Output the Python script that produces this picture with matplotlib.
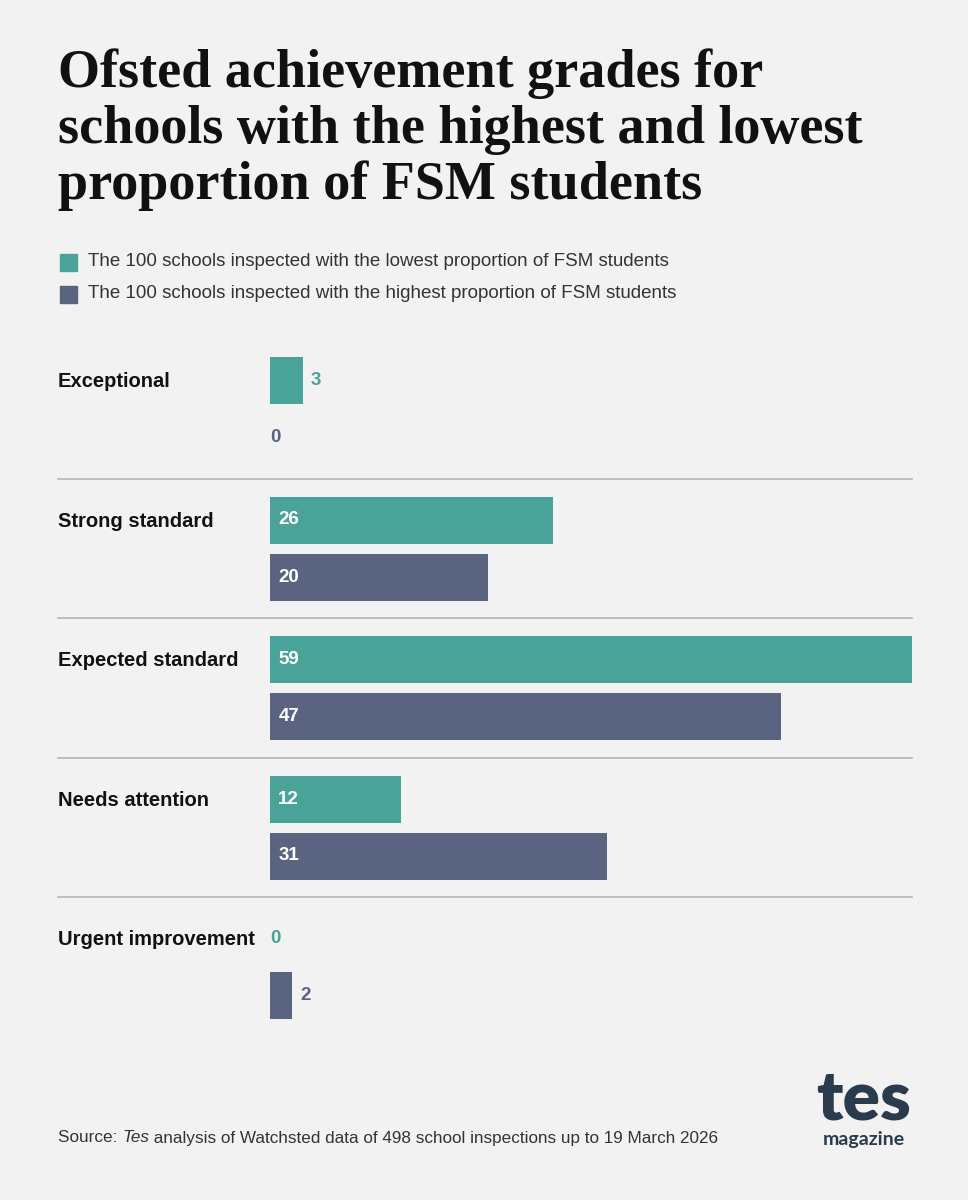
import matplotlib.pyplot as plt
from matplotlib import transforms

grades = ['Exceptional', 'Strong standard', 'Expected standard', 'Needs attention', 'Urgent improvement']
lowest_fsm = [3, 26, 59, 12, 0]
highest_fsm = [0, 20, 47, 31, 2]
series_labels = ['The 100 schools inspected with the lowest proportion of FSM students',
                 'The 100 schools inspected with the highest proportion of FSM students']

TEAL = '#4aa398'
SLATE = '#5a6480'
BG = '#f2f2f2'
W, H = 968, 1200

fig = plt.figure(figsize=(W / 100, H / 100), dpi=100, facecolor=BG)


def fx(px):
    return px / W


def fy(py):
    return 1 - py / H


# title
title_lines = ['Ofsted achievement grades for',
               'schools with the highest and lowest',
               'proportion of FSM students']
for i, line in enumerate(title_lines):
    fig.text(fx(58), fy(87 + 56 * i), line, fontsize=39, fontweight='bold',
             family='Liberation Serif', color='#111111', va='baseline')

# legend
for i, (lab, col) in enumerate(zip(series_labels, [TEAL, SLATE])):
    y = 262 + 32 * i
    fig.patches.append(plt.Rectangle((fx(60), fy(y + 9)), fx(17), 17 / H,
                                     transform=fig.transFigure, color=col))
    fig.text(fx(88), fy(y), lab, fontsize=13.5, family='Liberation Sans',
             color='#333333', va='center')

# bars axes: groups at 0..4, pixel 409 + 139.5*g
top_px = 409 - 69.75
bot_px = 409 + 4 * 139.5 + 69.75
ax = fig.add_axes([fx(270), fy(bot_px), fx(912 - 270), (bot_px - top_px) / H])
ax.set_facecolor(BG)
ax.set_xlim(0, 59)
ax.set_ylim(4.5, -0.5)
ax.axis('off')

off = 57 / 2 / 139.5
bh = 47 / 139.5
ypos = list(range(len(grades)))
ax.barh([y - off for y in ypos], lowest_fsm, height=bh, color=TEAL)
ax.barh([y + off for y in ypos], highest_fsm, height=bh, color=SLATE)

for vals, sgn, col in [(lowest_fsm, -1, TEAL), (highest_fsm, 1, SLATE)]:
    for y, v in zip(ypos, vals):
        yy = y + sgn * off
        if v >= 10:
            ax.annotate(str(v), (0, yy), xytext=(6, 0), textcoords='offset points',
                        va='center', ha='left', color='white', fontsize=13.5,
                        fontweight='bold', family='Liberation Sans')
        else:
            dx = 6 if v > 0 else 0
            ax.annotate(str(v), (v, yy), xytext=(dx, 0), textcoords='offset points',
                        va='center', ha='left', color=col, fontsize=13.5,
                        fontweight='bold', family='Liberation Sans')

# separators
for g in range(len(grades) - 1):
    ax.axhline(g + 0.5, xmin=(58 - 270) / 642, xmax=1, color='#b5b5b5', lw=1.2, clip_on=False)

# category labels
blend = transforms.blended_transform_factory(fig.transFigure, ax.transData)
for y, g in zip(ypos, grades):
    ax.text(fx(58), y - off + 0.01, g, transform=blend, va='center', ha='left', fontsize=14.5,
            fontweight='bold', family='Liberation Sans', color='#111111')

# source line with italic "Tes"
fig.canvas.draw()
renderer = fig.canvas.get_renderer()
x = fx(58)
for part, style in [('Source: ', 'normal'), ('Tes', 'italic'),
                    (' analysis of Watchsted data of 498 school inspections up to 19 March 2026', 'normal')]:
    t = fig.text(x, fy(1138), part, fontsize=12.3, family='Liberation Sans', style=style,
                 color='#333333', va='center')
    bb = t.get_window_extent(renderer)
    x += bb.width / W

# logo
fig.text(fx(864), fy(1119), 'tes', fontsize=50, fontweight='heavy', family='Lato',
         color='#2b3b4e', ha='center', va='baseline')
fig.text(fx(864), fy(1145), 'magazine', fontsize=14, fontweight='bold', family='Lato',
         color='#2b3b4e', ha='center', va='baseline')

fig.savefig('out.png', dpi=100, facecolor=BG)
